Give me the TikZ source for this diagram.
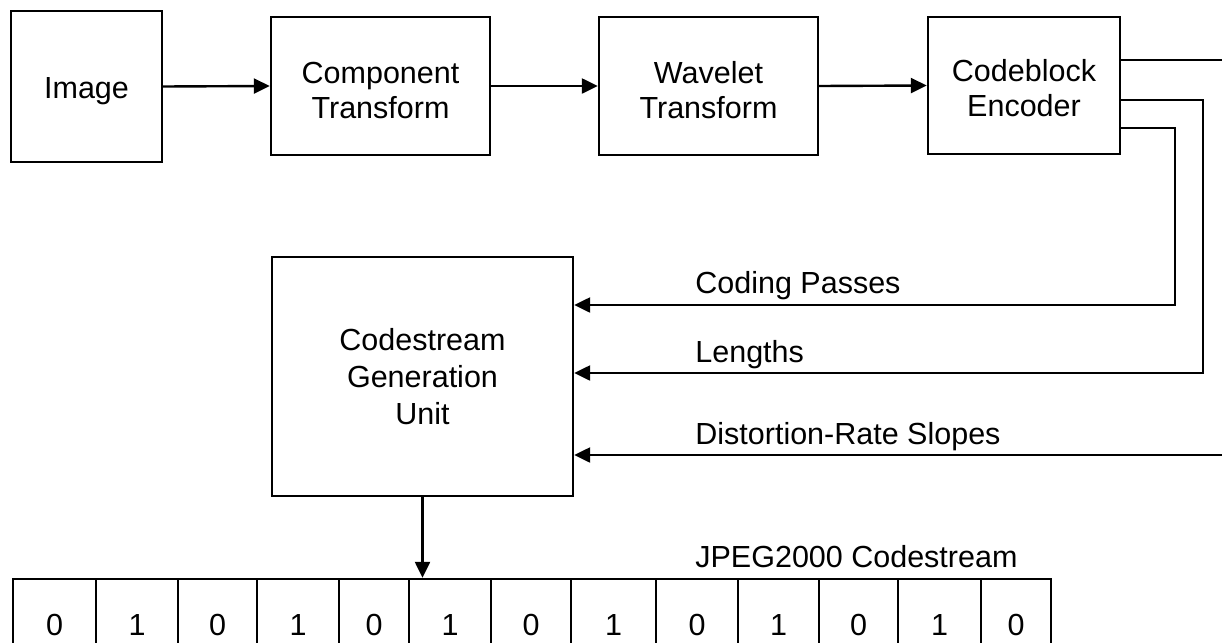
\documentclass[tikz,border=0pt]{standalone}
\usepackage{fontspec}
\setmainfont{Liberation Sans}
\usetikzlibrary{arrows.meta}
\newcommand{\twoline}[3]{\raisebox{#1}[0pt][0pt]{\begin{tabular}{@{}c@{}}#2\\#3\end{tabular}}}
\tikzset{
  basefont/.style={font=\fontsize{15.25pt}{17.6pt}\selectfont},
  blk/.style={draw, line width=1.2pt, align=center, inner sep=0pt, basefont},
  cell/.style={draw, line width=1.2pt, inner sep=0pt, minimum height=46pt, basefont},
  lbl/.style={anchor=base west, inner sep=0pt, basefont},
  conn/.style={line width=1.2pt},
  arr/.style={line width=1.2pt, -{Triangle[length=8pt,width=7.5pt]}},
}
\begin{document}
\begin{tikzpicture}[x=0.5pt,y=-0.5pt]
\clip (0,0) rectangle (1222,643);
\fill[white] (0,0) rectangle (1222,643);
% top row
\node[blk, minimum width=75.5pt, minimum height=75.5pt] (img) at (86.5,86.5) {\raisebox{-6.2pt}[0pt][0pt]{Image}};
\node[blk, minimum width=109.5pt, minimum height=69pt] (comp) at (380.5,86) {\twoline{-7.45pt}{Component}{Transform}};
\node[blk, minimum width=109.5pt, minimum height=69pt] (wav) at (708.5,86) {\twoline{-7.45pt}{Wavelet}{Transform}};
\node[blk, minimum width=96pt, minimum height=68.5pt] (cb) at (1024,85.5) {\twoline{-6.65pt}{Codeblock}{Encoder}};
\draw[arr] (img.east) -- (comp.west);
\draw[arr] (comp.east) -- (wav.west);
\draw[arr] (wav.east) -- (cb.west);
% codestream generation unit
\node[blk, minimum width=150.5pt, minimum height=119.5pt, font=\fontsize{15.25pt}{18.5pt}\selectfont] (cgu) at (422.5,376.5) {Codestream\\Generation\\Unit};
% encoder outputs
\coordinate (e1) at (1222,60);
\coordinate (e2) at (1203,100);
\coordinate (e3) at (1175,128);
\coordinate (e4) at (1222,455);
\coordinate (in1) at (573,305);
\coordinate (in2) at (573,373);
\draw[conn] (cb.east |- e1) -- (e1);
\draw[arr] (cb.east |- e2) -- (e2) |- (cgu.east |- in2);
\draw[arr] (cb.east |- e3) -- (e3) |- (cgu.east |- in1);
\draw[arr] (e4) -- (cgu.east |- e4);
% labels
\node[lbl] (lcp) at (695,293) {Coding Passes};
\node[lbl] (llen) at (695,362) {Lengths};
\node[lbl] (ldr) at (695,444) {Distortion-Rate Slopes};
\node[lbl] (ljp) at (695,567) {JPEG2000 Codestream};
% codestream cells
\foreach \i/\cx/\w/\d in {1/54.5/41.5/0, 2/137/41/1, 3/217.5/39.5/0, 4/298/41/1, 5/374/35/0, 6/450/41/1, 7/531/40/0, 8/613.5/42.5/1, 9/697/41/0, 10/778.5/40.5/1, 11/858.5/39.5/0, 12/939.5/41.5/1, 13/1016/35/0}
  \node[cell, minimum width=\w pt] (c\i) at (\cx,625) {\d};
\draw[arr] (cgu.south) -- (cgu.south |- c6.north);
\end{tikzpicture}
\end{document}
